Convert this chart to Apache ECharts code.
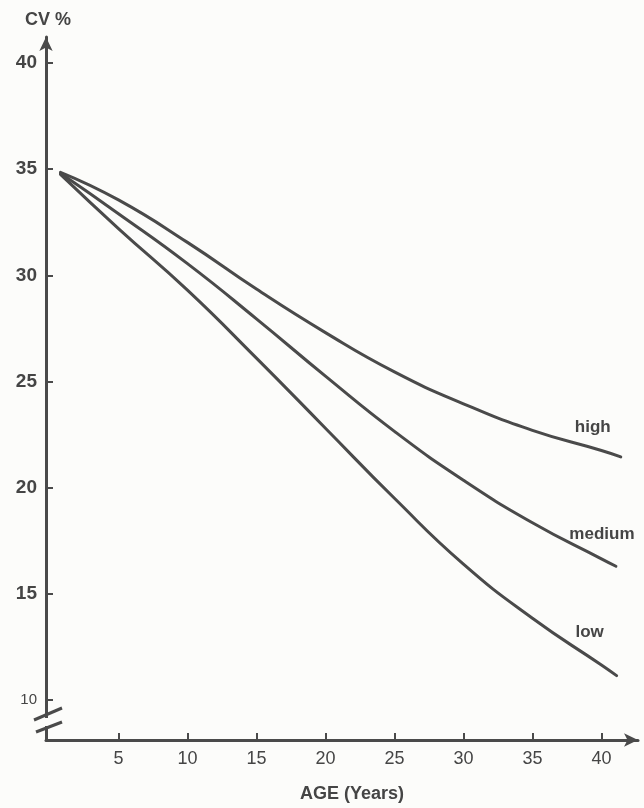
<!DOCTYPE html>
<html>
<head>
<meta charset="utf-8">
<script src="https://cdn.jsdelivr.net/npm/echarts@6/dist/echarts.min.js"></script>
<style>
html,body{margin:0;padding:0;background:#fcfcfa;}
#chart{width:644px;height:808px;}
</style>
</head>
<body>
<div id="chart"></div>
<script>
// ---- data ----
const ages = [0.8, 5, 10, 15, 20, 25, 30, 35, 40];
const highCV = [34.85, 33.55, 31.55, 29.35, 27.3, 25.45, 23.95, 22.7, 21.75];
const mediumCV = [34.8, 32.9, 30.55, 27.95, 25.25, 22.65, 20.35, 18.35, 16.65];
const lowCV = [34.75, 32.2, 29.3, 26.1, 22.8, 19.5, 16.4, 13.85, 11.65];
const seriesNames = ['high', 'medium', 'low'];
const endAges = [41.4, 41.05, 41.1];
const endCV = [21.45, 16.3, 11.15];
const xTicks = [5, 10, 15, 20, 25, 30, 35, 40];
const yTicks = [10, 15, 20, 25, 30, 35, 40];

const ink = '#4a4a4a';
const textInk = '#454545';
const font = 'Liberation Sans';

const chart = echarts.init(document.getElementById('chart'), null, {renderer: 'canvas'});

const labelOffsets = [[-28, -30], [-14, -32], [-27, -43]];
function buildSeries(name, values, idx) {
  const data = ages.map((a, i) => [a, values[i]]);
  data.push([endAges[idx], endCV[idx]]);
  return {
    name: name, type: 'line', data: data,
    smooth: 0.5,
    showSymbol: false, symbol: 'none',
    lineStyle: {color: ink, width: 3, cap: 'round'},
    itemStyle: {color: ink},
    endLabel: {
      show: true, formatter: name, distance: 0, offset: labelOffsets[idx],
      align: 'center', verticalAlign: 'middle',
      color: textInk, fontFamily: font, fontSize: 17, fontWeight: 'bold'
    },
    emphasis: {disabled: true},
    silent: true, z: 3
  };
}

const option = {
  backgroundColor: '#fcfcfa',
  animation: false,
  grid: {left: 46, right: 6, top: 37, bottom: 68, containLabel: false},
  xAxis: {
    type: 'value', min: -0.25, max: 42.65,
    name: 'AGE (Years)', nameLocation: 'middle', nameGap: 45,
    nameTextStyle: {color: textInk, fontFamily: font, fontSize: 18, fontWeight: 'bold', padding: [0, 0, 0, 20]},
    axisLine: {show: true, onZero: false, symbol: ['none', 'arrow'], symbolSize: [10, 14],
      lineStyle: {color: ink, width: 3}},
    axisTick: {show: true, inside: true, length: 7, customValues: xTicks, lineStyle: {color: ink, width: 2}},
    axisLabel: {customValues: xTicks, margin: 10, color: textInk, fontFamily: font, fontSize: 18},
    splitLine: {show: false}
  },
  yAxis: {
    type: 'value', min: 8.12, max: 41.22,
    name: 'CV %', nameLocation: 'end', nameGap: 8,
    nameTextStyle: {color: textInk, fontFamily: font, fontSize: 18, fontWeight: 'bold', align: 'center', padding: [0, 0, 0, 4]},
    axisLine: {show: true, onZero: false, symbol: ['none', 'arrow'], symbolSize: [10, 14],
      lineStyle: {color: ink, width: 3}},
    axisTick: {show: true, inside: true, length: 7, customValues: yTicks, lineStyle: {color: ink, width: 2}},
    axisLabel: {
      customValues: yTicks, margin: 9, color: textInk, fontFamily: font, fontSize: 19, fontWeight: 'bold',
      formatter: function (v) { return v === 10 ? '{s|' + v + '}' : String(v); },
      rich: {s: {fontSize: 15, fontWeight: 'normal', color: textInk, fontFamily: font}}
    },
    splitLine: {show: false}
  },
  series: [
    buildSeries(seriesNames[0], highCV, 0),
    buildSeries(seriesNames[1], mediumCV, 1),
    buildSeries(seriesNames[2], lowCV, 2)
  ]
};
chart.setOption(option);

// axis-break marks on the y axis, positioned from the axis origin
const o = chart.convertToPixel({gridIndex: 0}, [-0.25, 8.12]);
const brk = (x1, y1, x2, y2) => ({
  type: 'line', silent: true, z: 10,
  shape: {x1: o[0] + x1, y1: o[1] + y1, x2: o[0] + x2, y2: o[1] + y2},
  style: {stroke: ink, lineWidth: 3}
});
chart.setOption({
  graphic: [
    {type: 'rect', silent: true, z: 9, shape: {x: o[0] - 3, y: o[1] - 22, width: 6, height: 8}, style: {fill: '#fcfcfa'}},
    brk(-12, -20, 16, -32),
    brk(-10, -8, 16, -18)
  ]
});
</script>
</body>
</html>
